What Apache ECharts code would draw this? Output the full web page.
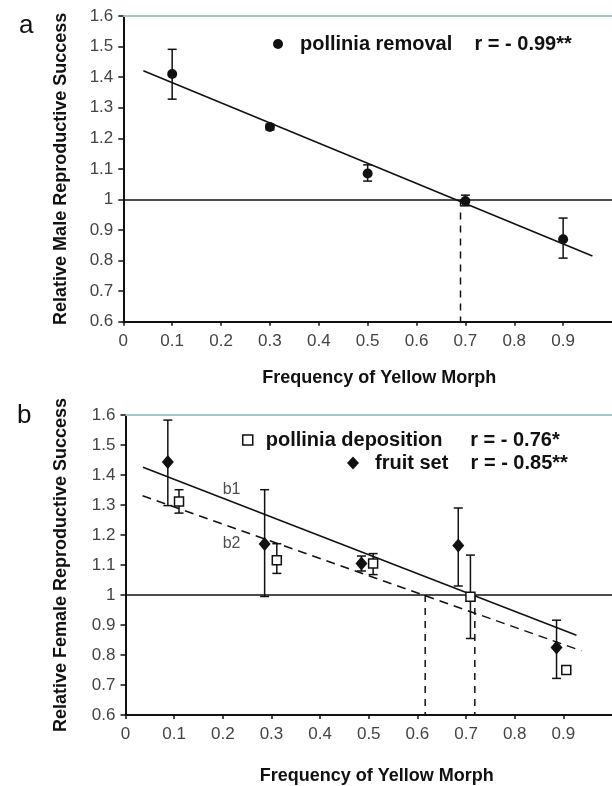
<!DOCTYPE html>
<html><head><meta charset="utf-8">
<script src="https://cdn.jsdelivr.net/npm/echarts@6/dist/echarts.min.js"></script>
<style>html,body{margin:0;padding:0;background:#fff}#c{width:612px;height:786px}</style>
</head><body><div id="c"></div>
<script>
// ---------- Panel a data ----------
const aX  = [0.1, 0.3, 0.5, 0.7, 0.9];
const aY  = [1.41, 1.237, 1.085, 0.995, 0.87];
const aLo = [1.328, 1.228, 1.06, 0.979, 0.808];
const aHi = [1.491, 1.246, 1.113, 1.014, 0.939];
const aFit   = [[0.041, 1.421], [0.96, 0.815]];
const aCross = [[0.69, 1.0], [0.69, 0.6]];

// ---------- Panel b data ----------
const depX  = [0.11, 0.311, 0.509, 0.709, 0.906];
const depY  = [1.312, 1.116, 1.105, 0.994, 0.75];
const depLo = [1.273, 1.072, 1.068, 0.855, 0.742];
const depHi = [1.351, 1.171, 1.138, 1.133, 0.758];
const fruitX  = [0.087, 0.286, 0.485, 0.684, 0.886];
const fruitY  = [1.443, 1.17, 1.105, 1.165, 0.825];
const fruitLo = [1.298, 0.995, 1.08, 1.03, 0.722];
const fruitHi = [1.583, 1.351, 1.13, 1.29, 0.916];
const b1Fit = [[0.036, 1.426], [0.927, 0.866]];
const b2Fit = [[0.035, 1.331], [0.937, 0.814]];
const b1Cross = [[0.718, 1.0], [0.718, 0.6]];
const b2Cross = [[0.616, 1.0], [0.616, 0.6]];
const lineLabels = [[0.218, 1.351, 'b1'], [0.218, 1.171, 'b2']];

// ---------- Axis / text ----------
const xMin = 0, xMax = 1, xStep = 0.1;
const yMin = 0.6, yMax = 1.6, yStep = 0.1;
const xTitle = 'Frequency of Yellow Morph';
const yTitleA = 'Relative Male Reproductive Success';
const yTitleB = 'Relative Female Reproductive Success';
const legA  = ['pollinia removal', '    r = - 0.99**'];
const legB1 = ['pollinia deposition', '     r = - 0.76*'];
const legB2 = ['fruit set', '    r = - 0.85**'];

const FF = "'Liberation Sans', Arial, Helvetica, sans-serif";
const INK = '#111111';
const fmt = v => String(Math.round(v * 10) / 10);

function errBar(xs, lo, hi, gi) {
  return {
    type: 'custom', xAxisIndex: gi, yAxisIndex: gi, z: 3,
    data: xs.map((x, i) => [x, lo[i], hi[i]]),
    encode: { x: 0, y: [1, 2] },
    renderItem: function (params, api) {
      const p1 = api.coord([api.value(0), api.value(2)]);
      const p2 = api.coord([api.value(0), api.value(1)]);
      const w = 4.5, st = { stroke: INK, lineWidth: 1.5 };
      return { type: 'group', children: [
        { type: 'line', shape: { x1: p1[0], y1: p1[1], x2: p2[0], y2: p2[1] }, style: st },
        { type: 'line', shape: { x1: p1[0] - w, y1: p1[1], x2: p1[0] + w, y2: p1[1] }, style: st },
        { type: 'line', shape: { x1: p2[0] - w, y1: p2[1], x2: p2[0] + w, y2: p2[1] }, style: st }
      ]};
    }
  };
}

function xAx(gi, gap, pad) {
  return {
    type: 'value', gridIndex: gi, min: xMin, max: xMax, interval: xStep,
    name: xTitle, nameLocation: 'middle', nameGap: gap,
    nameTextStyle: { fontFamily: FF, fontSize: 18, fontWeight: 'bold', color: INK, padding: [0, 0, 0, pad] },
    axisLine: { show: true, lineStyle: { color: INK, width: 2 } },
    axisTick: { show: true, length: 4, lineStyle: { color: INK, width: 1.5 } },
    axisLabel: { fontFamily: FF, fontSize: 17, color: '#444', margin: 11, formatter: fmt, showMaxLabel: false },
    splitLine: { show: false }
  };
}
function topAx(gi) {
  return {
    type: 'value', gridIndex: gi, position: 'top', min: xMin, max: xMax,
    axisLine: { show: true, lineStyle: { color: '#a4c5ca', width: 2 } },
    axisTick: { show: false }, axisLabel: { show: false }, splitLine: { show: false }
  };
}
function yAx(gi, title, gap) {
  return {
    type: 'value', gridIndex: gi, min: yMin, max: yMax, interval: yStep,
    name: title, nameLocation: 'middle', nameGap: gap,
    nameTextStyle: { fontFamily: FF, fontSize: 18, fontWeight: 'bold', color: INK },
    axisLine: { show: true, lineStyle: { color: INK, width: 2 } },
    axisTick: { show: true, length: 5, lineStyle: { color: INK, width: 1.5 } },
    axisLabel: { fontFamily: FF, fontSize: 17, color: '#444', margin: 10, formatter: fmt },
    splitLine: { show: false }
  };
}
function fitLine(data, gi, dashed, withOne) {
  const s = {
    type: 'line', xAxisIndex: gi, yAxisIndex: gi, data: data, symbol: 'none', z: 2,
    lineStyle: { color: INK, width: 1.5, type: dashed ? [9, 6] : 'solid' }
  };
  if (withOne) s.markLine = { silent: true, symbol: 'none', label: { show: false },
    lineStyle: { color: INK, width: 1.5, type: 'solid' }, data: [{ yAxis: 1 }] };
  return s;
}
function crossLine(data, gi) {
  return { type: 'line', xAxisIndex: gi, yAxisIndex: gi, data: data, symbol: 'none', z: 2,
    lineStyle: { color: INK, width: 1.5, type: [7, 6] } };
}
function legendFor(name, rtext, pad, left, top, icon, style, w, h) {
  return {
    left: left, top: top, padding: 0, itemWidth: w, itemHeight: h, selectedMode: false,
    data: [{ name: name, icon: icon, itemStyle: style }],
    formatter: n => '{t|' + n + rtext + '}',
    textStyle: { rich: { t: { fontFamily: FF, fontSize: 20, fontWeight: 'bold', color: INK, padding: [0, 0, 0, pad] } } }
  };
}

const chart = echarts.init(document.getElementById('c'), null, { renderer: 'canvas' });
chart.setOption({
  animation: false,
  backgroundColor: '#fff',
  grid: [
    { left: 123.3, top: 16, right: -4, height: 305.7 },
    { left: 125.5, top: 415, right: -8, height: 301 }
  ],
  xAxis: [xAx(0, 47, 23), xAx(1, 52, 16), topAx(0), topAx(1)],
  yAxis: [yAx(0, yTitleA, 53), yAx(1, yTitleB, 55)],
  legend: [
    legendFor(legA[0], legA[1], 12, 273, 34, 'circle', { color: INK, opacity: 1 }, 10, 10),
    legendFor(legB1[0], legB1[1], 8, 242, 430, 'rect', { color: '#fff', borderColor: INK, borderWidth: 1.5, opacity: 1 }, 10, 10),
    legendFor(legB2[0], legB2[1], 11, 347, 453, 'diamond', { color: INK, opacity: 1 }, 12, 13)
  ],
  graphic: [
    { type: 'text', left: 19, top: 13, style: { text: 'a', font: '26px ' + FF, fill: INK } },
    { type: 'text', left: 17, top: 403, style: { text: 'b', font: '26px ' + FF, fill: INK } }
  ],
  series: [
    fitLine(aFit, 0, false, true),
    crossLine(aCross, 0),
    errBar(aX, aLo, aHi, 0),
    { type: 'scatter', name: legA[0], xAxisIndex: 0, yAxisIndex: 0, z: 5, symbol: 'circle', symbolSize: 10,
      itemStyle: { color: INK, opacity: 1 }, data: aX.map((x, i) => [x, aY[i]]) },

    fitLine(b1Fit, 1, false, true),
    fitLine(b2Fit, 1, true, false),
    crossLine(b1Cross, 1),
    crossLine(b2Cross, 1),
    errBar(fruitX, fruitLo, fruitHi, 1),
    errBar(depX, depLo, depHi, 1),
    { type: 'scatter', name: legB2[0], xAxisIndex: 1, yAxisIndex: 1, z: 5, symbol: 'diamond', symbolSize: [12, 14],
      itemStyle: { color: INK, opacity: 1 }, data: fruitX.map((x, i) => [x, fruitY[i]]) },
    { type: 'scatter', name: legB1[0], xAxisIndex: 1, yAxisIndex: 1, z: 6, symbol: 'rect', symbolSize: 9,
      itemStyle: { color: '#fff', borderColor: INK, borderWidth: 1.5, opacity: 1 }, data: depX.map((x, i) => [x, depY[i]]) },
    { type: 'scatter', xAxisIndex: 1, yAxisIndex: 1, z: 6, symbolSize: 0, silent: true,
      data: lineLabels,
      label: { show: true, position: 'inside', formatter: p => p.value[2], fontFamily: FF, fontSize: 16, color: '#222' } }
  ]
});
</script></body></html>
